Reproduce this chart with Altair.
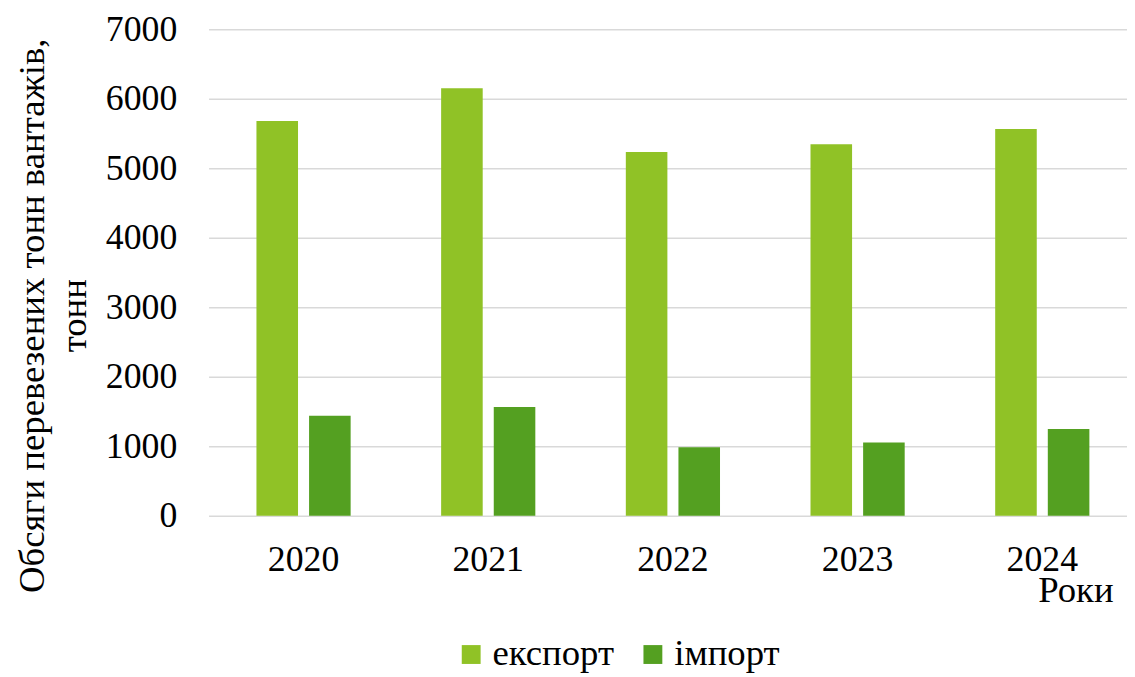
import altair as alt
import pandas as pd

years = ["2020", "2021", "2022", "2023", "2024"]
export_vals = [5680, 6150, 5235, 5345, 5565]
import_vals = [1440, 1565, 985, 1055, 1250]
series = ["експорт", "імпорт"]
colors = ["#90C226", "#54A021"]

rows = []
for y, e, i in zip(years, export_vals, import_vals):
    rows.append({"year": y, "series": series[0], "value": e})
    rows.append({"year": y, "series": series[1], "value": i})
df = pd.DataFrame(rows)

FONT = "Liberation Serif"

chart = alt.Chart(df).mark_bar().encode(
    x=alt.X("year:N", sort=years,
            scale=alt.Scale(paddingInner=0.49, paddingOuter=0.2315, align=0.56),
            axis=alt.Axis(title="Роки", labelAngle=0, labelFontSize=36, labelFont=FONT,
                          labelColor="#000000", labelBaseline="alphabetic", labelPadding=55,
                          ticks=False, tickSize=0, domain=False, grid=False,
                          titleFontSize=37, titleFont=FONT, titleFontWeight="normal",
                          titleColor="#000000", titleAnchor="end", titleAlign="right",
                          titleBaseline="alphabetic", titleX=911, titleY=86)),
    xOffset=alt.XOffset("series:N", sort=series,
                        scale=alt.Scale(paddingInner=0.21, paddingOuter=0)),
    y=alt.Y("value:Q", scale=alt.Scale(domain=[0, 7000], nice=False),
            axis=alt.Axis(title=["Обсяги перевезених тонн вантажів,", "тонн"],
                          values=[0, 1000, 2000, 3000, 4000, 5000, 6000, 7000],
                          format="d",
                          labelFontSize=36, labelFont=FONT, labelColor="#000000",
                          labelPadding=32, ticks=False, tickSize=0, domain=False,
                          grid=True, gridColor="#D9D9D9", gridWidth=1.5,
                          titleFontSize=37, titleFont=FONT, titleFontWeight="normal",
                          titleColor="#000000", titleLineHeight=42,
                          titleAngle=270, titleAlign="center", titleBaseline="alphabetic",
                          titleX=-166, titleY=288)),
    color=alt.Color("series:N", sort=series,
                    scale=alt.Scale(domain=series, range=colors),
                    legend=alt.Legend(title=None, orient="none", direction="horizontal",
                                      legendX=246, legendY=611, padding=0,
                                      symbolType="square", symbolSize=361,
                                      symbolStrokeWidth=0, symbolOpacity=1,
                                      labelFontSize=37, labelFont=FONT,
                                      labelColor="#000000", labelOffset=3,
                                      columnPadding=20)),
).properties(
    width=925, height=490,
    autosize=alt.AutoSizeParams(type="none"),
    padding={"left": 202, "top": 19, "right": 0, "bottom": 160},
).configure_view(stroke=None).configure_legend(labelFont=FONT)

chart.save("out.html", embed_options={"renderer": "svg", "actions": False})
